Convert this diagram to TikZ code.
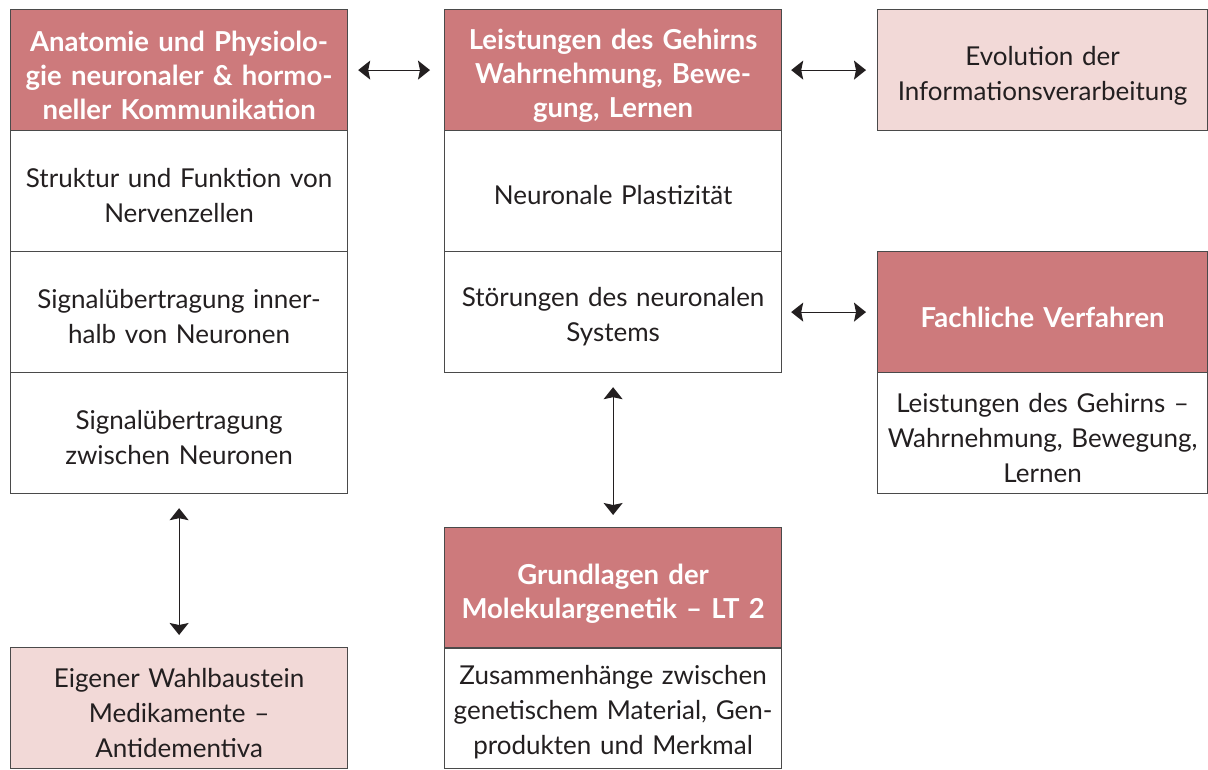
\documentclass[tikz,border=0pt]{standalone}
\usepackage{fontspec}
\setmainfont{Lato}
\usetikzlibrary{arrows.meta}
\definecolor{headred}{HTML}{CD7A7C}
\definecolor{lightred}{HTML}{F2D9D7}
\definecolor{frame}{HTML}{4A4A4A}
\definecolor{ink}{HTML}{231F20}
\begin{document}
\begin{tikzpicture}[x=1pt,y=-1pt,
  box/.style={draw=frame, line width=1.2pt, minimum width=337pt, minimum height=121pt,
    inner sep=0pt, text width=334pt, align=center, anchor=north west,
    font=\fontsize{26}{35}\selectfont, text=ink,
    execute at begin node={\rule{0pt}{28pt}}},
  head/.style={box, fill=headred, text=white, font=\fontsize{27.5}{34}\selectfont\bfseries,
    execute at begin node={\rule{0pt}{32pt}}},
  soft/.style={box, fill=lightred, execute at begin node={\rule{0pt}{30pt}}},
  link/.style={line width=1.1pt, draw=ink,
    {Stealth[length=12pt,width=19pt,inset=2pt]}-{Stealth[length=12pt,width=19pt,inset=2pt]}}
]
\useasboundingbox (0,0) rectangle (1208,770);

% left column
\node[head] (anat) at (10,9) {Anatomie und Physiolo-\\gie neuronaler \& hormo-\\neller Kommunikation};
\node[box] (struk) at (10,130) {Struktur und Funktion von\\Nervenzellen};
\node[box] (innen) at (10,251) {Signalübertragung inner-\\halb von Neuronen};
\node[box] (zwisch) at (10,372) {Signalübertragung\\zwischen Neuronen};
\node[soft] (wahl) at (10,647) {Eigener Wahlbaustein\\Medikamente –\\Antidementiva};

% middle column
\node[head] (leist) at (444,9) {Leistungen des Gehirns\\Wahrnehmung, Bewe-\\gung, Lernen};
\node[box] (plast) at (444,130) {Neuronale Plastizität};
\node[box] (stoer) at (444,251) {Störungen des neuronalen\\Systems};
\node[head] (grund) at (444,527) {Grundlagen der\\Molekulargenetik – LT 2};
\node[box] (zus) at (444,647) {Zusammenhänge zwischen\\genetischem Material, Gen-\\produkten und Merkmal};

% right column
\node[soft, minimum width=330pt, text width=328pt] (evo) at (877,9) {Evolution der\\Informationsverarbeitung};
\node[head, minimum width=330pt, text width=328pt] (fach) at (877,251) {Fachliche Verfahren};
\node[box, minimum width=330pt, text width=328pt] (fachtxt) at (877,372) {Leistungen des Gehirns –\\Wahrnehmung, Bewegung,\\Lernen};

% connectors
\draw[link, shorten <=10pt, shorten >=14pt] (anat.east) -- (leist.west);
\draw[link, shorten <=9pt, shorten >=11pt] (leist.east) -- (evo.west);
\draw[link, shorten <=9pt, shorten >=11pt] (stoer.east) -- (fach.west);
\draw[link, shorten <=14pt, shorten >=12pt] (zwisch.south) -- (wahl.north);
\draw[link, shorten <=14pt, shorten >=12pt] (stoer.south) -- (grund.north);
\end{tikzpicture}
\end{document}
